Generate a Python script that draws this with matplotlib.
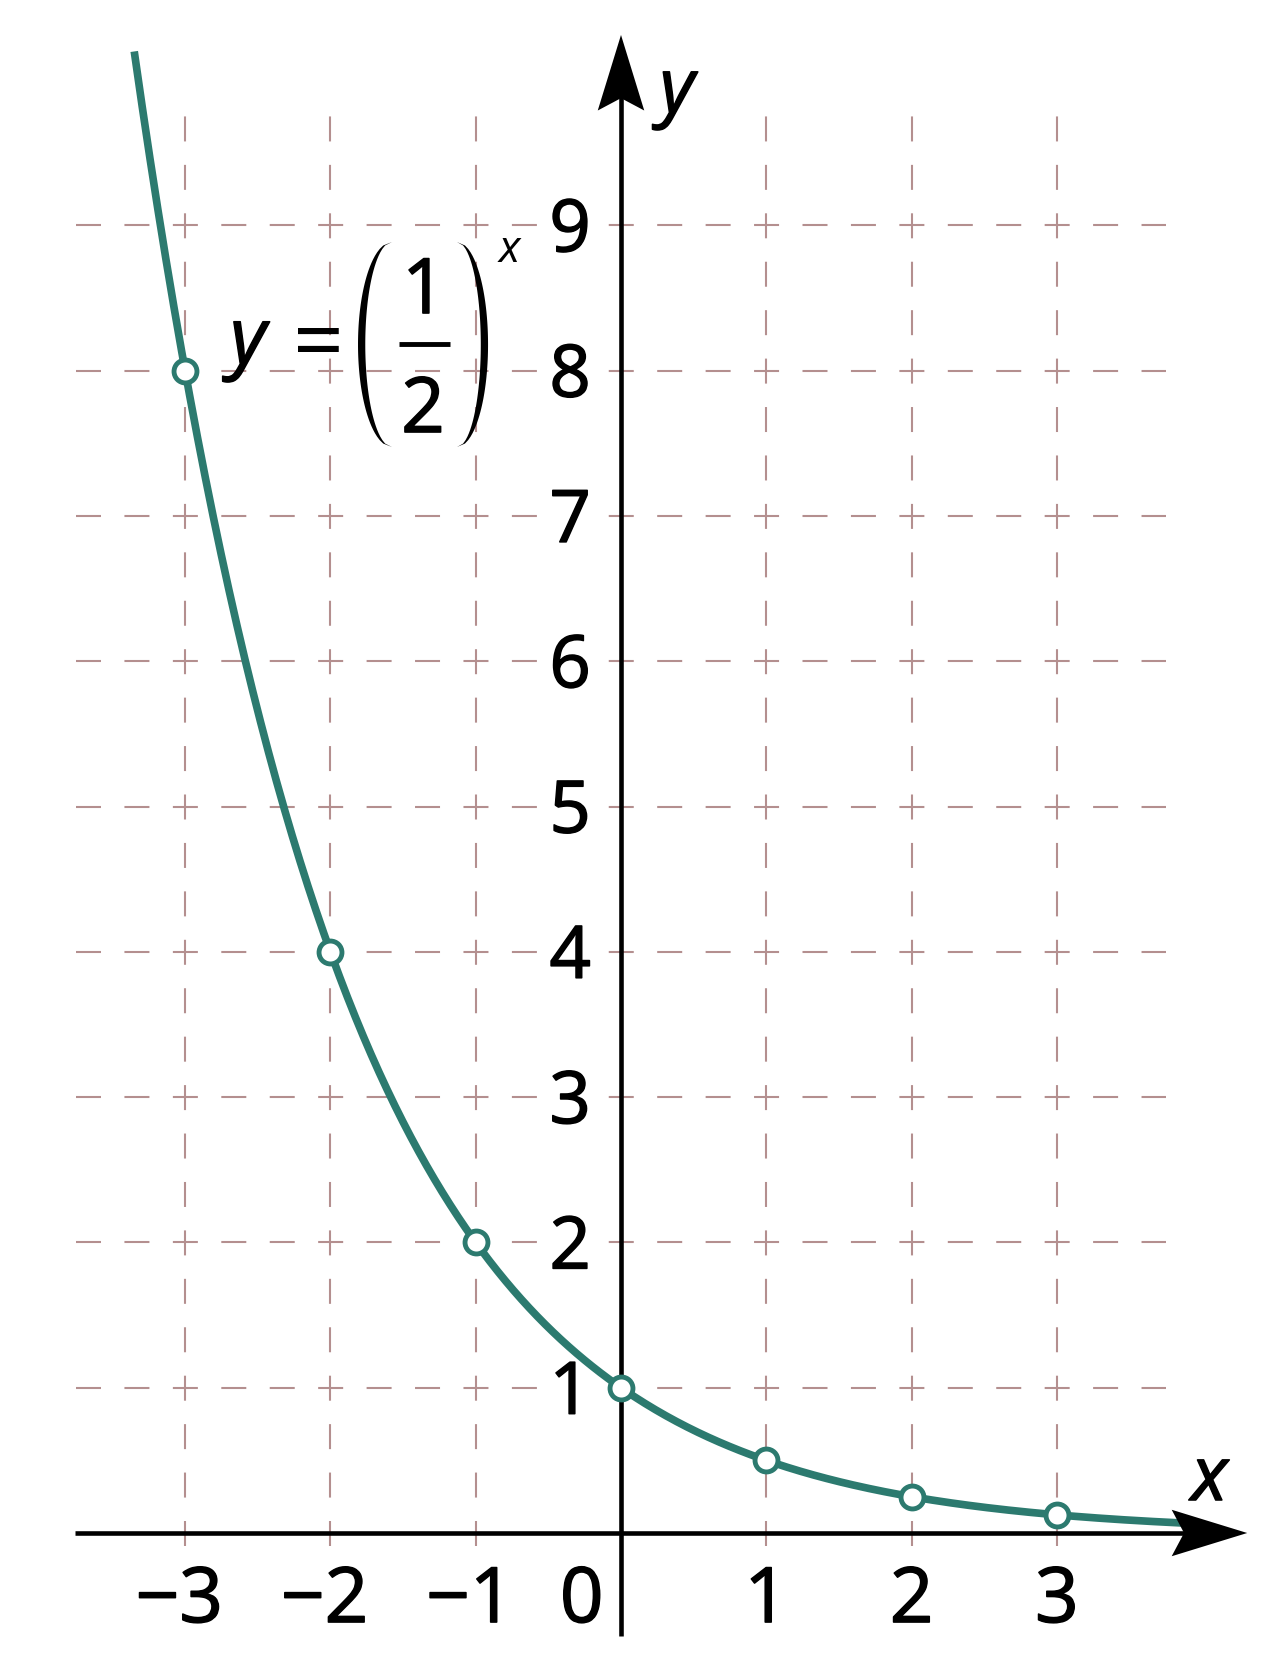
import numpy as np
import matplotlib
matplotlib.use("Agg")
import matplotlib.pyplot as plt
import matplotlib.patheffects as pe
from matplotlib.patches import Polygon

plt.rcParams['font.family'] = ['Open Sans', 'DejaVu Sans']
plt.rcParams['lines.scale_dashes'] = False

##########
# Data
##########

base = 0.5
point_x = [-3, -2, -1, 0, 1, 2, 3]
point_y = [8, 4, 2, 1, 0.5, 0.25, 0.125]
x_ticks = [-3, -2, -1, 1, 2, 3]
x_tick_labels = ['\u22123', '\u22122', '\u22121', '1', '2', '3']
y_ticks = [1, 2, 3, 4, 5, 6, 7, 8, 9]
y_tick_labels = ['1', '2', '3', '4', '5', '6', '7', '8', '9']

teal = '#2c7a6f'
grid_col = '#b48f8f'
# regular weight, slightly thickened
thick = [pe.withStroke(linewidth=1.1, foreground='black')]

##########
# Figure set up so that 1 unit = same px on both axes
##########

W, H, dpi = 1266, 1675, 100
unit = 145.3              # px per unit
x0_px, y0_px = 621, 1533  # origin position in pixels (from top-left)

fig = plt.figure(figsize=(W / dpi, H / dpi), dpi=dpi)
ax = fig.add_axes([0, 0, 1, 1])
ax.set_xlim(-x0_px / unit, (W - x0_px) / unit)
ax.set_ylim((y0_px - H) / unit, y0_px / unit)
ax.axis('off')

# dashed grid, dashes centred on the grid crossings (3 dashes per unit)
d = 25 / unit
period_pt = unit / 3 * 72 / dpi
dash_pt = 25 * 72 / dpi
dash = (0, (dash_pt, period_pt - dash_pt))
for yv in y_ticks:
    ax.plot([-11 / 3 - d / 2, 11 / 3 + d / 2], [yv, yv], color=grid_col, lw=1.5,
            linestyle=dash, zorder=1)
for xv in x_ticks:
    ax.plot([xv, xv], [-d / 2, 29 / 3 + d / 2], color=grid_col, lw=1.5,
            linestyle=dash, zorder=1)

# axes with arrow heads
ax.plot([-3.76, 3.88], [0, 0], color='black', lw=3.3, zorder=2, solid_capstyle='butt')
ax.plot([0, 0], [-0.71, 9.88], color='black', lw=3.3, zorder=2, solid_capstyle='butt')
hw = 0.16
ax.add_patch(Polygon([[4.31, 0], [3.79, hw], [3.875, 0], [3.79, -hw]], closed=True,
                     color='black', lw=0, zorder=5))
ax.add_patch(Polygon([[0, 10.31], [hw, 9.79], [0, 9.875], [-hw, 9.79]], closed=True,
                     color='black', lw=0, zorder=5))

# curve and points
xs = np.linspace(-3.35, 3.88, 400)
ax.plot(xs, base ** xs, color=teal, lw=5.5, zorder=3, solid_capstyle='butt')
ax.plot(point_x, point_y, 'o', ms=16.5, mfc='white', mec=teal, mew=3.5, zorder=4)

# tick labels
dh = 26 / unit
for xv, lab in zip(x_ticks, x_tick_labels):
    ax.text(xv - (0.04 if xv < 0 else 0), -0.613, lab, fontsize=55, ha='center',
            va='baseline', path_effects=thick)
ax.text(-0.27, -0.613, '0', fontsize=55, ha='center', va='baseline', path_effects=thick)
for yv, lab in zip(y_ticks, y_tick_labels):
    ax.text(-0.35, yv - dh, lab, fontsize=52, ha='center', va='baseline', path_effects=thick,
            bbox=dict(boxstyle='square,pad=0.15', fc='white', ec='none'), zorder=2.5)

# axis names
ax.text(0.385, 9.78, 'y', fontsize=54, style='italic', ha='center', va='baseline', path_effects=thick)
ax.text(4.05, 0.227, 'x', fontsize=54, style='italic', ha='center', va='baseline', path_effects=thick)


##########
# Formula y = (1/2)^x, built piece by piece
##########

def paren(x_end, x_mid, y_top, y_bot, thick):
    """Crescent shaped bracket between two arcs sharing their end points."""
    t = np.linspace(-1, 1, 60)
    yy = (y_top + y_bot) / 2 + t * (y_top - y_bot) / 2
    bulge = np.sqrt(1 - t ** 2)
    outer = x_end + (x_mid - x_end) * bulge
    sign = np.sign(x_mid - x_end)
    inner = x_end + (x_mid - x_end - sign * thick) * bulge
    pts = np.column_stack([np.concatenate([outer, inner[::-1]]),
                           np.concatenate([yy, yy[::-1]])])
    ax.add_patch(Polygon(pts, closed=True, color='black', lw=0, zorder=6))


ax.text(-2.69, 8.05, 'y', fontsize=56, style='italic', ha='left', va='baseline', zorder=6,
        path_effects=thick)
ax.text(-2.08, 7.99, '=', fontsize=64, ha='center', va='baseline', zorder=6)
paren(-1.576, -1.810, 8.885, 7.474, 0.05)
paren(-1.129, -0.915, 8.885, 7.474, 0.05)
ax.text(-1.356, 8.396, '1', fontsize=55, ha='center', va='baseline', zorder=6, path_effects=thick)
ax.plot([-1.528, -1.177], [8.183, 8.183], color='black', lw=3.5, solid_capstyle='butt', zorder=6)
ax.text(-1.363, 7.577, '2', fontsize=55, ha='center', va='baseline', zorder=6, path_effects=thick)
ax.text(-0.767, 8.747, 'x', fontsize=32, style='italic', ha='center', va='baseline', zorder=6)

fig.savefig('out.png', dpi=dpi)
